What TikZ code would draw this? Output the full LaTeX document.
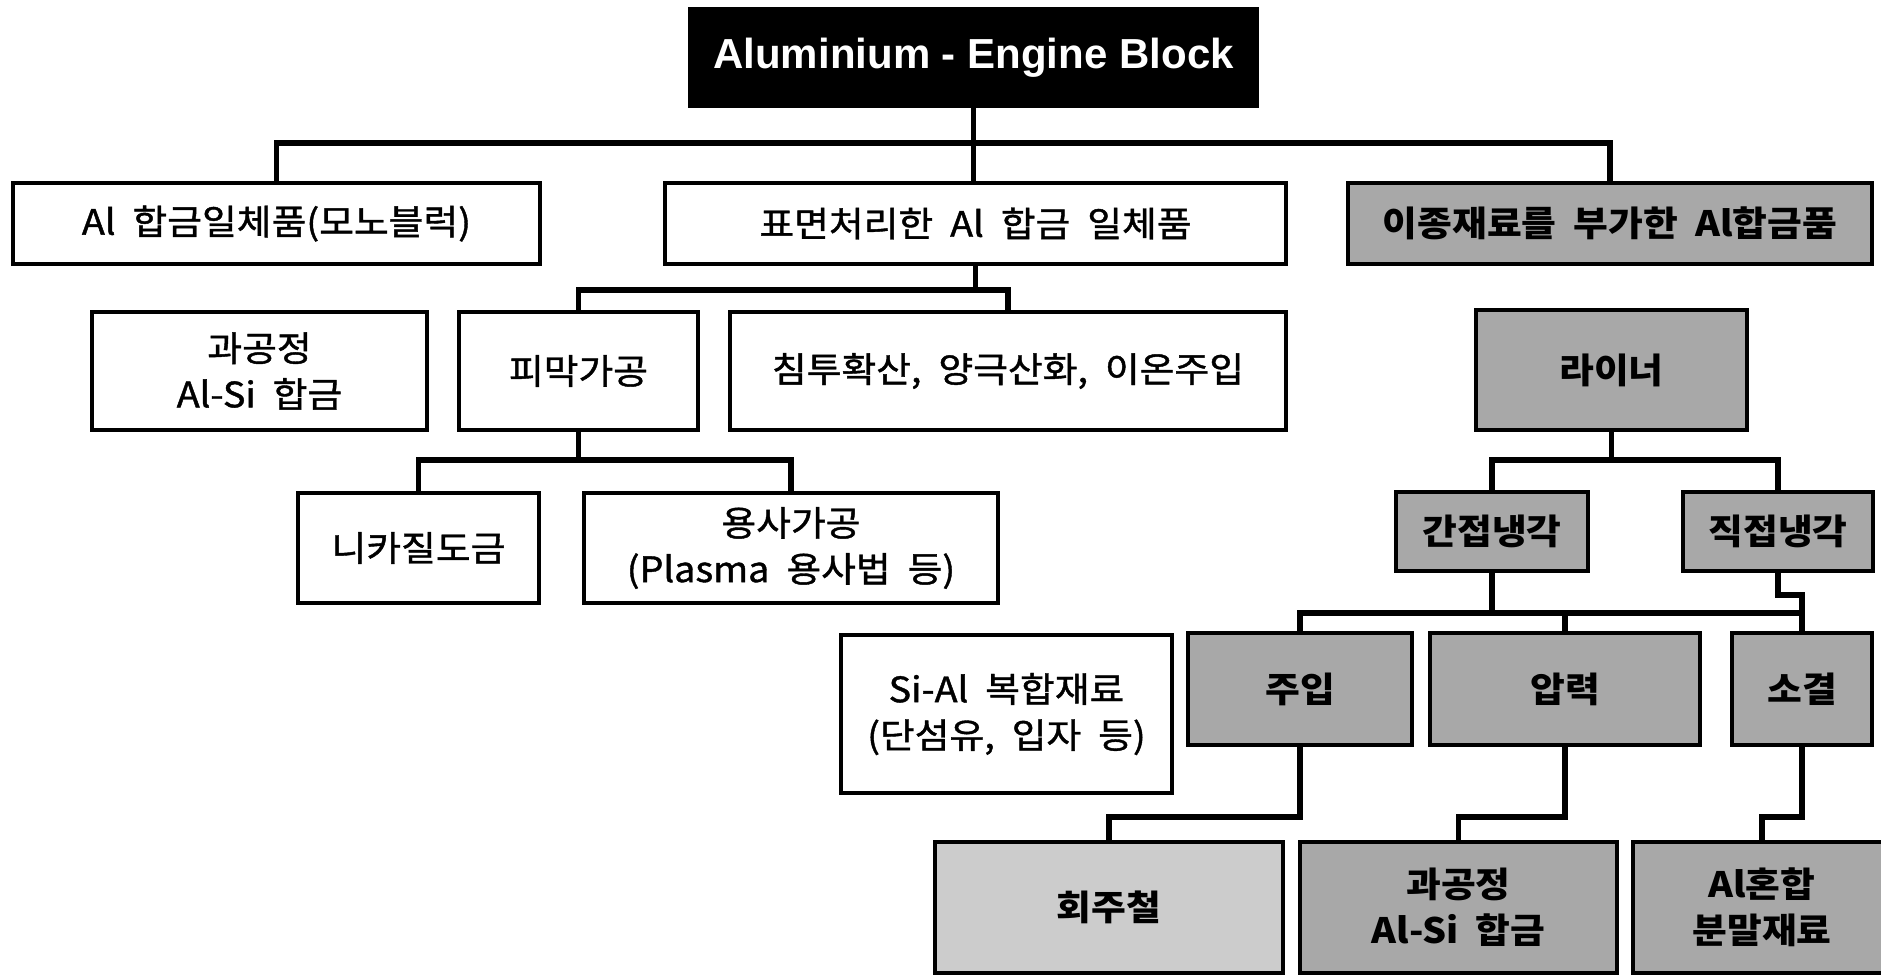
\documentclass[tikz,border=0pt]{standalone}
\usepackage{fontspec}
\setmainfont{Noto Sans CJK KR}[WordSpace=2, FakeStretch=1.08, UprightFeatures={FakeBold=1.2}]
\newfontfamily\latfont{Liberation Sans}
\usetikzlibrary{fit}
\definecolor{dotgray}{gray}{0.66}
\definecolor{lightdot}{gray}{0.80}
\tikzset{
  x=1pt, y=-1pt,
  box/.style={draw=black, line width=4pt, fill=white, inner sep=0pt},
  graybox/.style={box, fill=dotgray},
  lightbox/.style={box, fill=lightdot},
  titlebox/.style={draw=black, line width=2pt, fill=black, inner sep=0pt},
  plain/.style={align=center, font=\fontsize{35}{46}\selectfont},
  heavy/.style={align=center, font=\fontsize{35}{46}\selectfont\bfseries},
  titletext/.style={text=white, font=\latfont\bfseries\fontsize{42}{50}\selectfont},
  conn/.style={draw=black, line width=5.5pt, line join=miter, line cap=rect},
}
\begin{document}
\begin{tikzpicture}
\useasboundingbox (0,0) rectangle (1881,976);
\clip (0,0) rectangle (1881,976);
\fill[white] (0,0) rectangle (1881,976);

% junction coordinates
\coordinate (j1) at (0,143);
\coordinate (j2) at (0,290);
\coordinate (j3) at (0,460);
\coordinate (j4) at (0,460);
\coordinate (j5) at (0,613);
\coordinate (j6) at (0,595);
\coordinate (j7) at (0,817);

% boxes
\node[titlebox, fit={(689,8)(1258,107)}] (top) {};
\node[titletext] (toptxt) at (top.center) {Aluminium - Engine Block};

\node[box, fit={(13,183)(540,264)}] (A) {};
\node[plain] (At) at (A.center) {Al 합금일체품(모노블럭)};
\node[box, fit={(665,183)(1286,264)}] (B) {};
\node[plain] (Bt) at (B.center) {표면처리한 Al 합금 일체품};
\node[graybox, fit={(1348,183)(1872,264)}] (C) {};
\node[heavy] (Ct) at (C.center) {이종재료를 부가한 Al합금품};

\node[box, fit={(92,312)(427,430)}] (hyp1) {};
\node[plain] (hyp1t) at (hyp1.center) {과공정\\Al-Si 합금};
\node[box, fit={(459,312)(698,430)}] (pimak) {};
\node[plain] (pimakt) at (pimak.center) {피막가공};
\node[box, fit={(730,312)(1286,430)}] (chim) {};
\node[plain] (chimt) at (chim.center) {침투확산, 양극산화, 이온주입};
\node[graybox, fit={(1476,310)(1747,430)}] (liner) {};
\node[heavy] (linert) at (liner.center) {라이너};

\node[box, fit={(298,493)(539,603)}] (nik) {};
\node[plain] (nikt) at (nik.center) {니카질도금};
\node[box, fit={(584,493)(998,603)}] (spray) {};
\node[plain] (sprayt) at (spray.center) {용사가공\\(Plasma 용사법 등)};

\node[graybox, fit={(1396,492)(1588,571)}] (indir) {};
\node[heavy] (indirt) at (indir.center) {간접냉각};
\node[graybox, fit={(1683,492)(1873,571)}] (dir) {};
\node[heavy] (dirt) at (dir.center) {직접냉각};

\node[box, fit={(841,635)(1172,793)}] (sial) {};
\node[plain] (sialt) at (sial.center) {Si-Al 복합재료\\(단섬유, 입자 등)};
\node[graybox, fit={(1188,633)(1412,745)}] (juip) {};
\node[heavy] (juipt) at (juip.center) {주입};
\node[graybox, fit={(1430,633)(1700,745)}] (apr) {};
\node[heavy] (aprt) at (apr.center) {압력};
\node[graybox, fit={(1732,633)(1872,745)}] (sog) {};
\node[heavy] (sogt) at (sog.center) {소결};

\node[lightbox, fit={(935,842)(1283,973)}] (cast) {};
\node[heavy] (castt) at (cast.center) {회주철};
\node[graybox, fit={(1300,842)(1617,973)}] (hyp2) {};
\node[heavy] (hyp2t) at (hyp2.center) {과공정\\Al-Si 합금};
\node[graybox, fit={(1633,842)(1891,973)}] (powder) {};
\node[heavy] (powdert) at (powder.center) {Al혼합\\분말재료};

% connectors
\draw[conn] (top.south) -- (top.south |- B.north);
\draw[conn] (A.north) -- (A.north |- j1) -- (C.north |- j1) -- (C.north);

\draw[conn] (B.south) -- (B.south |- j2);
\draw[conn] (pimak.north) -- (pimak.north |- j2) -- (chim.north |- j2) -- (chim.north);

\draw[conn] (pimak.south) -- (pimak.south |- j3);
\draw[conn] (nik.north) -- (nik.north |- j3) -- (spray.north |- j3) -- (spray.north);

\draw[conn] (liner.south) -- (liner.south |- j4);
\draw[conn] (indir.north) -- (indir.north |- j4) -- (dir.north |- j4) -- (dir.north);

\draw[conn] (indir.south) -- (indir.south |- j5);
\draw[conn] (juip.north) -- (juip.north |- j5) -- (sog.north |- j5) -- (sog.north);
\draw[conn] (apr.north) -- (apr.north |- j5);
\draw[conn] (dir.south) -- (dir.south |- j6) -- (sog.north |- j6) -- (sog.north |- j5);

\draw[conn] (juip.south) -- (juip.south |- j7) -- (cast.north |- j7) -- (cast.north);
\draw[conn] (apr.south) -- (apr.south |- j7) -- (hyp2.north |- j7) -- (hyp2.north);
\draw[conn] (sog.south) -- (sog.south |- j7) -- (powder.north |- j7) -- (powder.north);
\end{tikzpicture}
\end{document}
